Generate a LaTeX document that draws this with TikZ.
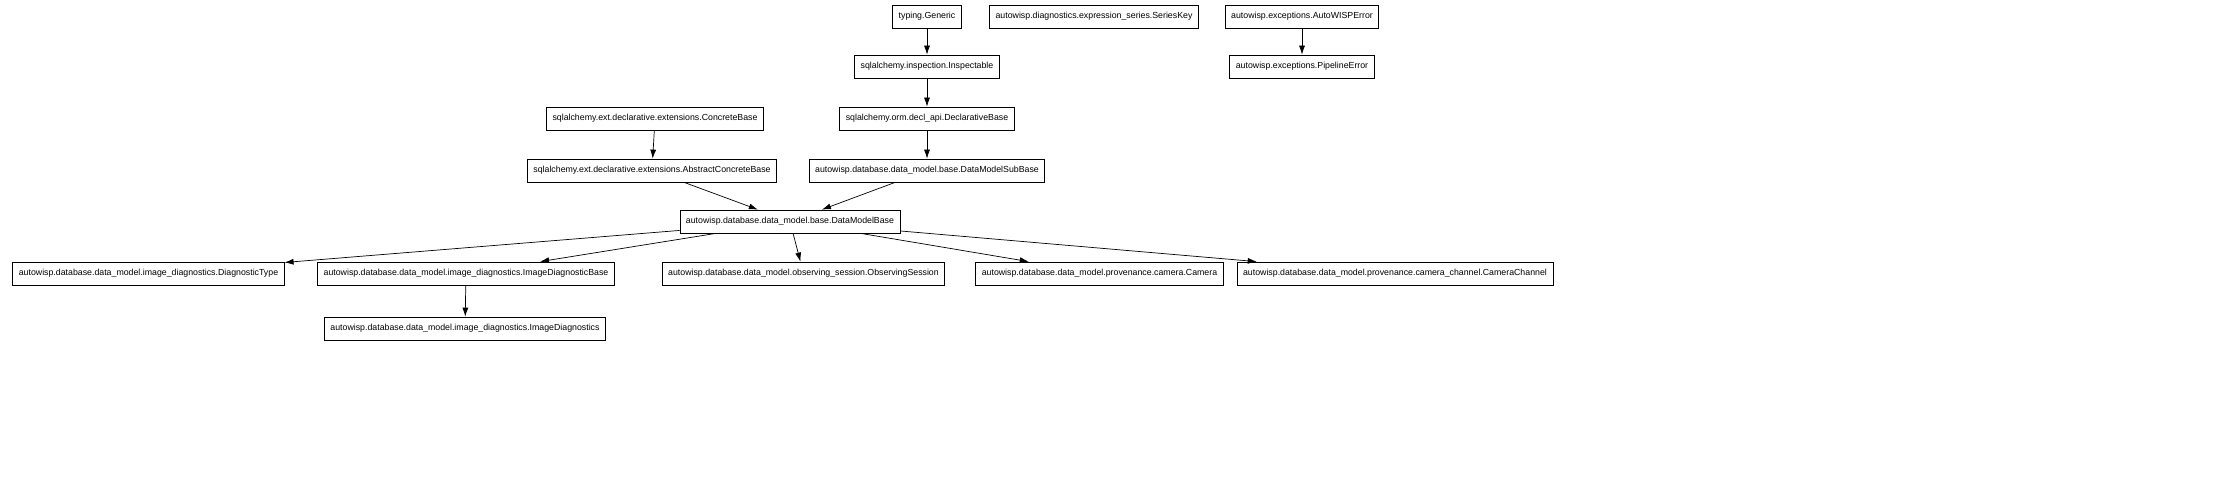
\documentclass[tikz,border=0pt]{standalone}
\usepackage{fontspec}
\setmainfont{Liberation Sans}
\usetikzlibrary{arrows.meta}
\tikzset{
  cls/.style={draw, line width=0.22pt, font=\fontsize{2.5}{3}\selectfont,
    minimum height=0.23cm, inner xsep=0.06cm, inner ysep=0pt},
  inh/.style={-{Latex[length=0.09cm,width=0.06cm]}, line width=0.2pt},
}
\begin{document}
\begin{tikzpicture}
\useasboundingbox (0,0) rectangle (22.22,-4.85);
% top rows
\node[cls] (gen) at (9.27,-0.165) {typing.Generic};
\node[cls] (skey) at (10.94,-0.165) {autowisp.diagnostics.expression\_series.SeriesKey};
\node[cls] (awerr) at (13.02,-0.165) {autowisp.exceptions.AutoWISPError};
\node[cls] (insp) at (9.27,-0.665) {sqlalchemy.inspection.Inspectable};
\node[cls] (perr) at (13.02,-0.665) {autowisp.exceptions.PipelineError};
\node[cls] (cbase) at (6.55,-1.185) {sqlalchemy.ext.declarative.extensions.ConcreteBase};
\node[cls] (dbase) at (9.27,-1.185) {sqlalchemy.orm.decl\_api.DeclarativeBase};
\node[cls] (acbase) at (6.52,-1.705) {sqlalchemy.ext.declarative.extensions.AbstractConcreteBase};
\node[cls] (dmsub) at (9.27,-1.705) {autowisp.database.data\_model.base.DataModelSubBase};
\node[cls] (dmb) at (7.90,-2.215) {autowisp.database.data\_model.base.DataModelBase};
% leaf row
\node[cls] (dtype) at (1.485,-2.735) {autowisp.database.data\_model.image\_diagnostics.DiagnosticType};
\node[cls] (idbase) at (4.66,-2.735) {autowisp.database.data\_model.image\_diagnostics.ImageDiagnosticBase};
\node[cls] (obs) at (8.035,-2.735) {autowisp.database.data\_model.observing\_session.ObservingSession};
\node[cls] (cam) at (10.995,-2.735) {autowisp.database.data\_model.provenance.camera.Camera};
\node[cls] (camch) at (13.95,-2.735) {autowisp.database.data\_model.provenance.camera\_channel.CameraChannel};
\node[cls] (idiag) at (4.65,-3.285) {autowisp.database.data\_model.image\_diagnostics.ImageDiagnostics};
% edges
\draw[inh] (gen) -- (insp);
\draw[inh] (awerr) -- (perr);
\draw[inh] (insp) -- (dbase);
\draw[inh] (cbase) -- (acbase);
\draw[inh] (dbase) -- (dmsub);
\draw[inh] (acbase) -- (dmb);
\draw[inh] (dmsub) -- (dmb);
\draw[inh] (dmb) -- (dtype);
\draw[inh] (dmb) -- (idbase);
\draw[inh] (dmb) -- (obs);
\draw[inh] (dmb) -- (cam);
\draw[inh] (dmb) -- (camch);
\draw[inh] (idbase) -- (idiag);
\end{tikzpicture}
\end{document}
